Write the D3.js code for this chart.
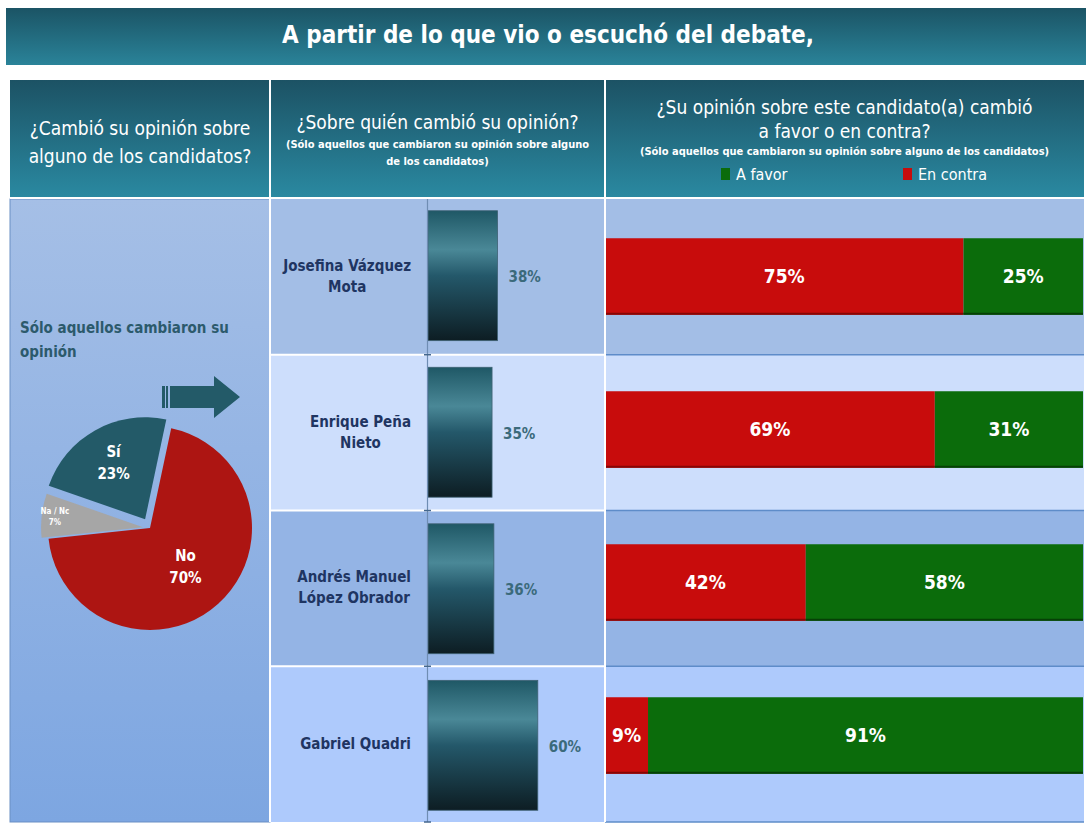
<!DOCTYPE html>
<html>
<head>
<meta charset="utf-8">
<script src="https://cdn.jsdelivr.net/npm/d3@7"></script>
<style>
  body { margin: 0; background: #fff; }
  svg { display: block; }
  text { font-family: "Liberation Sans Narrow", "DejaVu Sans Condensed", sans-serif; }
</style>
</head>
<body>
<svg id="chart"></svg>
<script>
// data
const pieLabels = ['No', 'Na / Nc', 'Sí'];
const pieValues = [70, 7, 23];
const candidates = ['Josefina Vázquez Mota', 'Enrique Peña Nieto', 'Andrés Manuel López Obrador', 'Gabriel Quadri'];
const nameLines = [['Josefina Vázquez', 'Mota'], ['Enrique Peña', 'Nieto'], ['Andrés Manuel', 'López Obrador'], ['Gabriel Quadri']];
const changedPct = [38, 35, 36, 60];
const enContra = [75, 69, 42, 9];
const aFavor = [25, 31, 58, 91];

const width = 1086;
const height = 830;
const colX = [10, 270, 605, 1084];
const headTop = 80, headBottom = 197;
const bodyTop = 199, bodyBottom = 822;
const rowFills = ['#a3bee6', '#cddefc', '#94b4e5', '#aecafc'];

const svg = d3.select('#chart').attr('width', width).attr('height', height);
const defs = svg.append('defs');

function vGrad(id, stops) {
    const g = defs.append('linearGradient').attr('id', id)
        .attr('x1', 0).attr('y1', 0).attr('x2', 0).attr('y2', 1);
    stops.forEach(s => g.append('stop').attr('offset', s[0]).attr('stop-color', s[1]));
}
vGrad('gTitle', [[0, '#1b5465'], [1, '#2a8399']]);
vGrad('gHead', [[0, '#1c5264'], [1, '#2a89a1']]);
vGrad('gCol1', [[0, '#a5bfe6'], [1, '#7da6e1']]);
vGrad('gBar', [[0, '#1f5866'], [0.3, '#4a8897'], [0.5, '#24586a'], [1, '#0d1d23']]);

// title banner
svg.append('rect').attr('x', 6).attr('y', 8).attr('width', width - 6).attr('height', 57)
    .attr('fill', 'url(#gTitle)');
svg.append('text').attr('x', 548).attr('y', 36)
    .attr('text-anchor', 'middle').attr('dominant-baseline', 'middle')
    .attr('fill', '#fff').attr('font-size', 24).attr('font-weight', 'bold')
    .text('A partir de lo que vio o escuchó del debate,');

// header row
svg.append('rect').attr('x', colX[0]).attr('y', headTop)
    .attr('width', colX[3] - colX[0]).attr('height', headBottom - headTop)
    .attr('fill', 'url(#gHead)');

function lines(x, ys, strs, size, weight) {
    strs.forEach((s, i) => {
        svg.append('text').attr('x', x).attr('y', ys[i])
            .attr('text-anchor', 'middle').attr('dominant-baseline', 'middle')
            .attr('fill', '#fff').attr('font-size', size).attr('font-weight', weight)
            .text(s);
    });
}
lines((colX[0] + colX[1]) / 2, [129, 157], ['¿Cambió su opinión sobre', 'alguno de los candidatos?'], 19, 'normal');
lines((colX[1] + colX[2]) / 2, [123], ['¿Sobre quién cambió su opinión?'], 19, 'normal');
lines((colX[1] + colX[2]) / 2, [145, 162], ['(Sólo aquellos que cambiaron su opinión sobre alguno', 'de los candidatos)'], 11, 'bold');
lines((colX[2] + colX[3]) / 2, [108, 132], ['¿Su opinión sobre este candidato(a) cambió', 'a favor o en contra?'], 19, 'normal');
lines((colX[2] + colX[3]) / 2, [152], ['(Sólo aquellos que cambiaron su opinión sobre alguno de los candidatos)'], 11, 'bold');

// legend
const legendItems = [['A favor', '#0b6c0b', 721], ['En contra', '#c80c0c', 903]];
legendItems.forEach(d => {
    svg.append('rect').attr('x', d[2]).attr('y', 168).attr('width', 9).attr('height', 12).attr('fill', d[1]);
    svg.append('text').attr('x', d[2] + 15).attr('y', 175).attr('dominant-baseline', 'middle')
        .attr('fill', '#fff').attr('font-size', 16).text(d[0]);
});

// body: rows
const rowScale = d3.scaleBand().domain(candidates).range([bodyTop, bodyBottom]);

svg.append('g').selectAll('rect').data(candidates).enter().append('rect')
    .attr('x', colX[1]).attr('y', d => rowScale(d))
    .attr('width', colX[3] - colX[1]).attr('height', rowScale.bandwidth())
    .attr('fill', (d, i) => rowFills[i]);

// row borders: white in the middle column, blue on the right
svg.append('g').selectAll('line').data(candidates.slice(1)).enter().append('line')
    .attr('x1', colX[1]).attr('x2', colX[2])
    .attr('y1', d => rowScale(d)).attr('y2', d => rowScale(d))
    .attr('stroke', '#fff').attr('stroke-width', 2);
svg.append('g').selectAll('line').data(candidates.slice(1)).enter().append('line')
    .attr('x1', colX[2]).attr('x2', colX[3])
    .attr('y1', d => rowScale(d)).attr('y2', d => rowScale(d))
    .attr('stroke', '#5e8cc9').attr('stroke-width', 1.5);
svg.append('line').attr('x1', colX[2]).attr('x2', colX[3]).attr('y1', bodyBottom).attr('y2', bodyBottom)
    .attr('stroke', '#5e8cc9').attr('stroke-width', 1.5);

// column 1
svg.append('rect').attr('x', colX[0]).attr('y', bodyTop)
    .attr('width', colX[1] - colX[0]).attr('height', bodyBottom - bodyTop)
    .attr('fill', 'url(#gCol1)').attr('stroke', '#6a8fc4').attr('stroke-width', 1);

svg.append('text').attr('x', 20).attr('y', 328).attr('dominant-baseline', 'middle')
    .attr('fill', '#2c5a6c').attr('font-size', 15).attr('font-weight', 'bold')
    .text('Sólo aquellos cambiaron su');
svg.append('text').attr('x', 20).attr('y', 352).attr('dominant-baseline', 'middle')
    .attr('fill', '#2c5a6c').attr('font-size', 15).attr('font-weight', 'bold')
    .text('opinión');

// arrow
svg.append('path')
    .attr('d', 'M170,386 L214,386 L214,376 L240,397 L214,418 L214,408 L170,408 Z')
    .attr('fill', '#235a68');
svg.append('rect').attr('x', 162).attr('y', 386).attr('width', 3).attr('height', 22).attr('fill', '#235a68');
svg.append('rect').attr('x', 166).attr('y', 386).attr('width', 2).attr('height', 22).attr('fill', '#235a68');

// pie
const pieColors = ['#ad1512', '#a6a6a6', '#235a68'];
const explode = [0, 7, 10];
const radius = 102;
const pieCx = 150, pieCy = 528;
const pie = d3.pie().sort(null).startAngle(12 * Math.PI / 180).endAngle(12 * Math.PI / 180 + 2 * Math.PI);
const arcs = pie(pieValues);
const arc = d3.arc().innerRadius(0).outerRadius(radius);
const pieG = svg.append('g').attr('transform', `translate(${pieCx},${pieCy})`);

function shift(d, i) {
    const a = (d.startAngle + d.endAngle) / 2;
    return [Math.sin(a) * explode[i], -Math.cos(a) * explode[i]];
}
pieG.selectAll('path').data(arcs).enter().append('path')
    .attr('d', arc)
    .attr('fill', (d, i) => pieColors[i])
    .attr('transform', (d, i) => `translate(${shift(d, i)})`);

const labelRadius = [0.52, 0.87, 0.63];
const labelSize = [15, 8, 15];
arcs.forEach((d, i) => {
    const a = (d.startAngle + d.endAngle) / 2;
    const s = shift(d, i);
    const x = Math.sin(a) * radius * labelRadius[i] + s[0];
    const y = -Math.cos(a) * radius * labelRadius[i] + s[1];
    const lh = labelSize[i] * 1.45;
    [pieLabels[i], pieValues[i] + '%'].forEach((t, j) => {
        pieG.append('text').attr('x', x).attr('y', y + (j - 0.5) * lh)
            .attr('text-anchor', 'middle').attr('dominant-baseline', 'middle')
            .attr('fill', '#fff').attr('font-size', labelSize[i]).attr('font-weight', 'bold')
            .text(t);
    });
});

// middle column: names
const nameG = svg.append('g');
nameLines.forEach((ls, i) => {
    const cy = rowScale(candidates[i]) + rowScale.bandwidth() / 2;
    const texts = ls.map((t, j) => nameG.append('text')
        .attr('y', cy + (j - (ls.length - 1) / 2) * 21)
        .attr('text-anchor', 'middle').attr('dominant-baseline', 'middle')
        .attr('fill', '#1f3562').attr('font-size', 15).attr('font-weight', 'bold')
        .text(t));
    const w = d3.max(texts, t => t.node().getComputedTextLength());
    texts.forEach(t => t.attr('x', 411 - w / 2));
});

// middle column: bars
const barX = d3.scaleLinear().domain([0, 100]).range([428, 611]);
const barY = d3.scaleBand().domain(candidates).range([bodyTop, bodyBottom])
    .paddingInner(0.17).paddingOuter(0.075);

svg.append('g').selectAll('rect').data(changedPct).enter().append('rect')
    .attr('x', barX(0)).attr('y', (d, i) => barY(candidates[i]))
    .attr('width', d => barX(d) - barX(0)).attr('height', barY.bandwidth())
    .attr('fill', 'url(#gBar)').attr('stroke', '#3f6274').attr('stroke-width', 0.8);

svg.append('g').selectAll('text').data(changedPct).enter().append('text')
    .attr('x', d => barX(d) + 11)
    .attr('y', (d, i) => barY(candidates[i]) + barY.bandwidth() / 2 + 2)
    .attr('dominant-baseline', 'middle')
    .attr('fill', '#3b6a7b').attr('font-size', 15).attr('font-weight', 'bold')
    .text(d => d + '%');

// axis line with ticks at row borders
svg.append('line').attr('x1', 427.5).attr('x2', 427.5).attr('y1', bodyTop).attr('y2', bodyBottom)
    .attr('stroke', '#6f8db3').attr('stroke-width', 1.2);
svg.append('g').selectAll('line').data(candidates.slice(1).map(c => rowScale(c)).concat([bodyBottom])).enter()
    .append('line')
    .attr('x1', 424).attr('x2', 431).attr('y1', d => d).attr('y2', d => d)
    .attr('stroke', '#44678e').attr('stroke-width', 1.5);

// right column: stacked bars
const stackX = d3.scaleLinear().domain([0, 100]).range([605, 1083]);
const stackY = d3.scaleBand().domain(candidates).range([200, 812])
    .paddingInner(0.5).paddingOuter(0.25);

const stackG = svg.append('g');
candidates.forEach((c, i) => {
    const y = stackY(c), h = stackY.bandwidth();
    const segs = [
        { x0: 0, x1: enContra[i], v: enContra[i], fill: '#c80c0c', edge: '#860606' },
        { x0: enContra[i], x1: 100, v: aFavor[i], fill: '#0b6c0b', edge: '#064006' }
    ];
    segs.forEach(s => {
        stackG.append('rect').attr('x', stackX(s.x0)).attr('y', y)
            .attr('width', stackX(s.x1) - stackX(s.x0)).attr('height', h)
            .attr('fill', s.fill);
        stackG.append('rect').attr('x', stackX(s.x0)).attr('y', y + h - 2)
            .attr('width', stackX(s.x1) - stackX(s.x0)).attr('height', 2)
            .attr('fill', s.edge);
        stackG.append('text')
            .attr('x', (stackX(s.x0) + stackX(s.x1)) / 2).attr('y', y + h / 2 + 1)
            .attr('text-anchor', 'middle').attr('dominant-baseline', 'middle')
            .attr('fill', '#fff').attr('font-size', 19).attr('font-weight', 'bold')
            .text(s.v + '%');
    });
});

// white column separators
[colX[1], colX[2]].forEach(x => {
    svg.append('line').attr('x1', x).attr('x2', x).attr('y1', headTop).attr('y2', bodyBottom)
        .attr('stroke', '#fff').attr('stroke-width', 2);
});
svg.append('line').attr('x1', colX[0]).attr('x2', colX[3]).attr('y1', headBottom + 1).attr('y2', headBottom + 1)
    .attr('stroke', '#fff').attr('stroke-width', 2);
</script>
</body>
</html>
